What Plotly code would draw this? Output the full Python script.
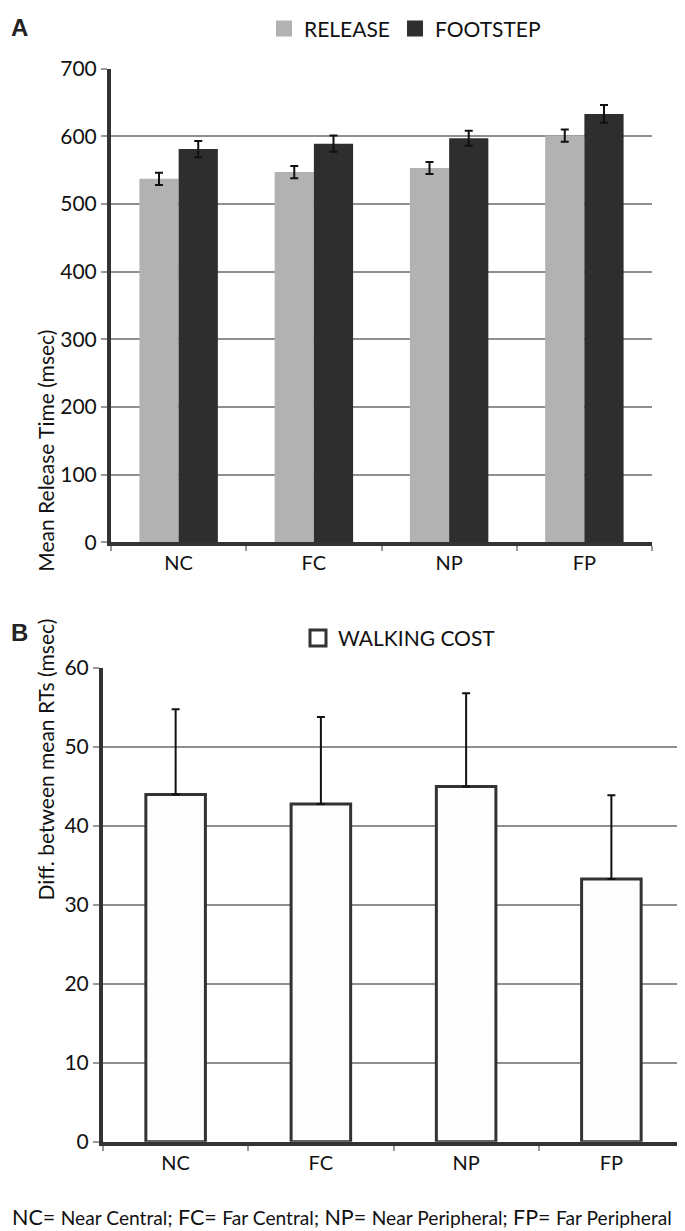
import plotly.graph_objects as go

# conditions
categories = ["NC", "FC", "NP", "FP"]

# panel A: mean release times (msec)
release = [537, 547, 553, 601]
release_err = [9, 9, 9, 9]
footstep = [581, 589, 597, 633]
footstep_err = [12, 12, 11, 13]

# panel B: walking cost = footstep - release (msec)
walking_cost = [44.0, 42.8, 45.0, 33.3]
walking_cost_err = [10.8, 11.0, 11.8, 10.6]

FONT = "Lato, 'Open Sans', sans-serif"
# the page body has an 8px margin, so the figure is laid out in window pixels minus 8
OFF = 8
FW, FH = 685 - OFF, 1231 - OFF


def px(x):
    return (x - OFF) / FW


def py(y):
    return 1 - (y - OFF) / FH


fig = go.Figure()

fig.add_trace(go.Bar(
    name="RELEASE", x=categories, y=release, showlegend=False,
    marker=dict(color="#b2b2b2", line=dict(width=0)),
    error_y=dict(type="data", array=release_err, color="#111", thickness=2, width=4),
    xaxis="x", yaxis="y",
))
fig.add_trace(go.Bar(
    name="FOOTSTEP", x=categories, y=footstep, showlegend=False,
    marker=dict(color="#2e2e2e", line=dict(width=0)),
    error_y=dict(type="data", array=footstep_err, color="#111", thickness=2, width=4),
    xaxis="x", yaxis="y",
))
fig.add_trace(go.Bar(
    name="WALKING COST", x=categories, y=walking_cost, showlegend=False, width=0.41,
    marker=dict(color="#fdfdfd", line=dict(color="#333", width=3)),
    error_y=dict(type="data", symmetric=False, array=walking_cost_err,
                 arrayminus=[0, 0, 0, 0], color="#111", thickness=2, width=4),
    xaxis="x2", yaxis="y2",
))

# legend entries with bigger square keys, one legend box each
for name, color, lc, lw, lg, ax in [("RELEASE", "#b2b2b2", "#b2b2b2", 0, "legend", 1),
                                    ("FOOTSTEP", "#2e2e2e", "#2e2e2e", 0, "legend3", 1),
                                    ("WALKING COST", "white", "#333", 3, "legend2", 2)]:
    fig.add_trace(go.Scatter(
        x=[None], y=[None], mode="markers", name=name, legend=lg,
        marker=dict(symbol="square", size=16, color=color, line=dict(color=lc, width=lw)),
        xaxis="x" if ax == 1 else "x2", yaxis="y" if ax == 1 else "y2",
    ))

xcommon = dict(
    type="category", showline=True, linecolor="#333", linewidth=4,
    ticks="outside", tickson="boundaries", ticklen=5, tickcolor="#999", tickwidth=2,
    tickfont=dict(size=20, color="#111", family=FONT), showgrid=False,
)
ycommon = dict(
    showline=True, linecolor="#333", linewidth=4, zeroline=False,
    ticks="outside", ticklen=6, tickcolor="#999", tickwidth=2,
    tickfont=dict(size=21, color="#111", family=FONT), automargin=False,
    showgrid=True, gridcolor="#8f8f8f", gridwidth=2,
)
leg = dict(orientation="h", xanchor="left", yanchor="middle", font=dict(size=21, family=FONT),
           itemclick=False, itemwidth=30, bgcolor="rgba(0,0,0,0)")

fig.update_layout(
    width=FW, height=FH,
    margin=dict(l=0, r=0, t=0, b=0),
    paper_bgcolor="white", plot_bgcolor="white",
    font=dict(family=FONT, color="#111"),
    barmode="group", bargap=0.42, bargroupgap=0,
    showlegend=True,
    xaxis=dict(domain=[px(111), px(652)], anchor="y", **xcommon),
    yaxis=dict(domain=[py(536), py(58)], anchor="x", range=[0, 700], dtick=100, **ycommon),
    xaxis2=dict(domain=[px(103), px(684)], anchor="y2", **xcommon),
    yaxis2=dict(domain=[py(1141), py(663)], anchor="x2", range=[0, 60], dtick=10, **ycommon),
    legend=dict(x=px(264), y=py(18), **leg),
    legend3=dict(x=px(395), y=py(18), **leg),
    legend2=dict(x=px(298), y=py(633), **leg),
)

# axis titles
fig.add_annotation(text="Mean Release Time (msec)", x=px(31), y=py(320), xref="paper", yref="paper",
                   textangle=-90, showarrow=False, font=dict(size=21, family=FONT, color="#111"))
fig.add_annotation(text="Diff. between mean RTs (msec)", x=px(31), y=py(900), xref="paper", yref="paper",
                   textangle=-90, showarrow=False, font=dict(size=21, family=FONT, color="#111"))

# panel letters
for letter, y in [("A", 17), ("B", 627)]:
    fig.add_annotation(text="<b>%s</b>" % letter, x=px(9), y=py(y), xref="paper", yref="paper",
                       xanchor="left", yanchor="middle", showarrow=False,
                       font=dict(size=24, family="Liberation Sans, Arial", color="#222"))

foot = ("NC= <span style='font-size:19.2px'>Near Central;</span> "
        "FC= <span style='font-size:19.2px'>Far Central;</span> "
        "NP= <span style='font-size:19.2px'>Near Peripheral;</span> "
        "FP= <span style='font-size:19.2px'>Far Peripheral</span>")
fig.add_annotation(text=foot, x=px(342), y=py(1217), xref="paper", yref="paper",
                   xanchor="center", yanchor="middle", showarrow=False,
                   font=dict(size=21.5, family=FONT, color="#111"))

fig.write_html("out.html")
